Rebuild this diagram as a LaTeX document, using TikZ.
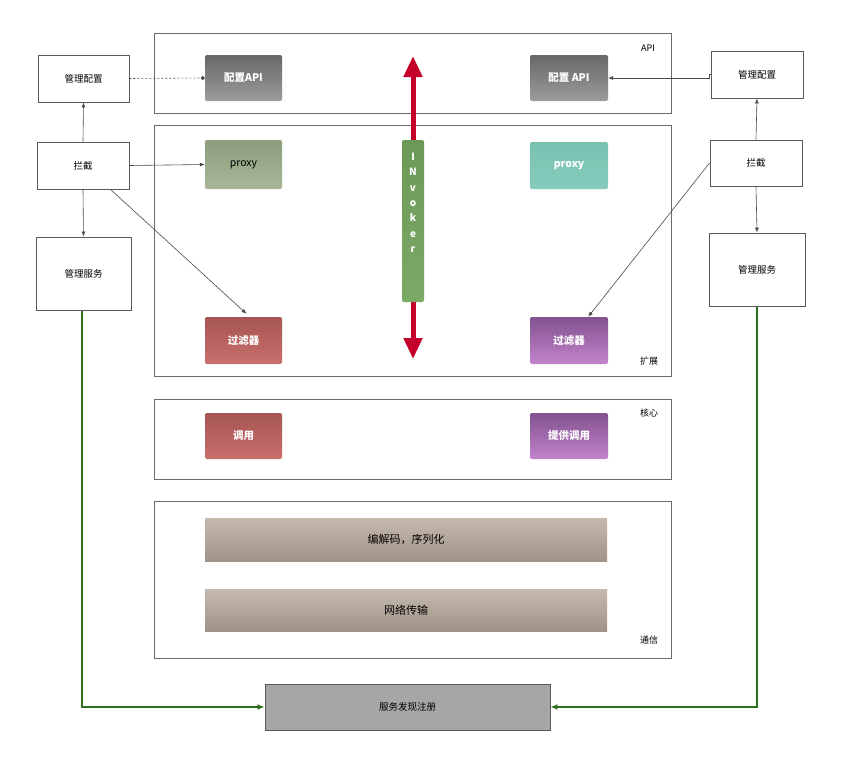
\documentclass[tikz,border=0pt]{standalone}
\usepackage{fontspec}
\setmainfont{Noto Sans CJK SC}
\usetikzlibrary{arrows.meta,calc}
\definecolor{layerline}{HTML}{6A6A6A}
\definecolor{boxline}{HTML}{5A5A5A}
\definecolor{darkgA}{HTML}{676767}
\definecolor{darkgB}{HTML}{9C9C9C}
\definecolor{proxyA}{HTML}{8C9E7E}
\definecolor{proxyB}{HTML}{A7B698}
\definecolor{tealA}{HTML}{79C2B1}
\definecolor{tealB}{HTML}{86CBBB}
\definecolor{redA}{HTML}{A65552}
\definecolor{redB}{HTML}{C8706E}
\definecolor{purA}{HTML}{83528F}
\definecolor{purB}{HTML}{C283CC}
\definecolor{taupeA}{HTML}{C6BAAE}
\definecolor{taupeB}{HTML}{9F9389}
\definecolor{invA}{HTML}{6A9A56}
\definecolor{invB}{HTML}{7CA966}
\definecolor{invred}{HTML}{C4002B}
\definecolor{greenline}{HTML}{2F6E1F}
\definecolor{regfill}{HTML}{A6A6A6}
\definecolor{conn}{HTML}{4A4A4A}
\tikzset{
  layerbox/.style={draw=layerline,line width=0.9pt,fill=white},
  sidebox/.style={draw=boxline,line width=0.9pt,fill=white,font=\fontsize{9.5}{11}\selectfont},
  inbox/.style={rounded corners=2pt,text=white,font=\fontsize{10.5}{12}\selectfont\bfseries},
  graybox/.style={inbox,top color=darkgA,bottom color=darkgB},
  proxybox/.style={inbox,top color=proxyA,bottom color=proxyB,text=black,font=\fontsize{10.5}{12}\selectfont},
  tealbox/.style={inbox,top color=tealA,bottom color=tealB},
  redbox/.style={inbox,top color=redA,bottom color=redB},
  purbox/.style={inbox,top color=purA,bottom color=purB},
  taupebox/.style={top color=taupeA,bottom color=taupeB,font=\fontsize{11}{13}\selectfont},
  invbox/.style={rounded corners=2pt,top color=invA,bottom color=invB},
  invtxt/.style={text=white,font=\fontsize{10}{15.3}\selectfont\bfseries,align=center},
  laylabel/.style={font=\fontsize{9}{11}\selectfont},
  conarrow/.style={draw=conn,line width=0.6pt,-{Latex[length=5pt,width=4pt]}},
  redarrow/.style={draw=invred,line width=5pt,-{Triangle[width=18pt,length=21pt]}},
  greenarrow/.style={draw=greenline,line width=1.8pt,-{Latex[length=7pt,width=6pt]}},
}
\begin{document}
\begin{tikzpicture}[x=1pt,y=-1pt]
\useasboundingbox (0,0) rectangle (853,769);
% layers
\node[layerbox,minimum width=517,minimum height=80] (api) at (412.5,73) {};
\node[layerbox,minimum width=517,minimum height=251] (ext) at (412.5,250.5) {};
\node[layerbox,minimum width=517,minimum height=80] (core) at (412.5,439) {};
\node[layerbox,minimum width=517,minimum height=157] (comm) at (412.5,579.5) {};
\node[laylabel] (lblapi) at (648,48) {API};
\node[laylabel] (lblext) at (649,361) {扩展};
\node[laylabel] (lblcore) at (649,413) {核心};
\node[laylabel] (lblcomm) at (649,640) {通信};
% inner boxes
\node[graybox,minimum width=77,minimum height=46] (lapi) at (243.5,78) {配置API};
\node[graybox,minimum width=78,minimum height=46] (rapi) at (569,78) {配置 API};
\node[proxybox,minimum width=77,minimum height=49] (lproxy) at (243.5,164.5) {proxy};
\node[tealbox,minimum width=78,minimum height=47] (rproxy) at (569,165.5) {proxy};
\node[redbox,minimum width=77,minimum height=47] (lfilter) at (243.5,340.5) {过滤器};
\node[purbox,minimum width=78,minimum height=47] (rfilter) at (569,340.5) {过滤器};
\node[redbox,minimum width=77,minimum height=46] (call) at (243.5,436) {调用};
\node[purbox,minimum width=78,minimum height=46] (pcall) at (569,436) {提供调用};
\node[taupebox,minimum width=402,minimum height=43] (codec) at (406,539.5) {编解码，序列化};
\node[taupebox,minimum width=402,minimum height=42] (net) at (406,610) {网络传输};
% invoker
\coordinate (invtop) at (413,56);
\coordinate (invbot) at (413,359);
\draw[redarrow] (413,160) -- (invtop);
\draw[redarrow] (413,290) -- (invbot);
\node[invbox,minimum width=22,minimum height=162,inner sep=0pt] (inv) at (413,221) {};
\node[invtxt,anchor=north,inner sep=0pt] (invtext) at (413,153) {I\\N\\v\\o\\k\\e\\r};
% side boxes
\node[sidebox,minimum width=91,minimum height=47] (lmc) at (83.5,78.5) {管理配置};
\node[sidebox,minimum width=92,minimum height=47] (lint) at (83,165.5) {拦截};
\node[sidebox,minimum width=95,minimum height=73] (lsvc) at (83.5,273.5) {管理服务};
\node[sidebox,minimum width=92,minimum height=47] (rmc) at (757,74.5) {管理配置};
\node[sidebox,minimum width=92,minimum height=46] (rint) at (756,163) {拦截};
\node[sidebox,minimum width=96,minimum height=73] (rsvc) at (757,269.5) {管理服务};
\node[draw=boxline,line width=0.9pt,fill=regfill,minimum width=285,minimum height=46,font=\fontsize{9.5}{11}\selectfont] (reg) at (407.5,707) {服务发现注册};
% connectors
\draw[draw=conn,line width=0.6pt,dash pattern=on 2pt off 2pt,-{Circle[length=4pt]}] (lmc.east) -- (lapi.west);
\draw[conarrow] (rmc.west) -- ++(-1,0) |- (rapi.east);
\draw[conarrow] (lint.north) -- (lmc.south);
\draw[conarrow] (lint.east) -- (lproxy.west);
\draw[conarrow] (lint.south) -- (lsvc.north);
\draw[conarrow] (lint.-41) -- ($(lfilter.north)+(3,-3)$);
\draw[conarrow] (rint.north) -- (rmc.south);
\draw[conarrow] (rint.west) -- (rfilter.51);
\draw[conarrow] (rint.south) -- (rsvc.north);
\draw[greenarrow] ($(lsvc.south)+(-1.5,0.5)$) |- (reg.west);
\draw[greenarrow] ($(rsvc.south)+(0,0.5)$) |- (reg.east);
\end{tikzpicture}
\end{document}
